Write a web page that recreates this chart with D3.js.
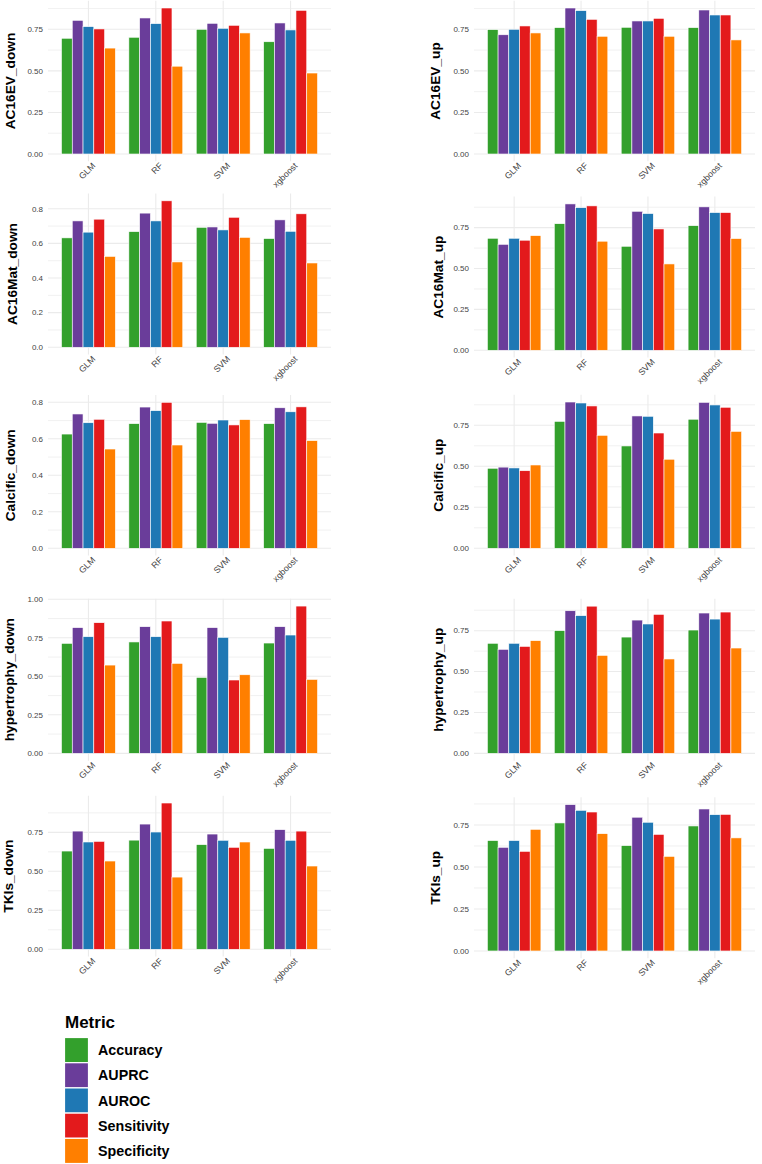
<!DOCTYPE html>
<html>
<head>
<meta charset="utf-8">
<script src="https://cdn.jsdelivr.net/npm/d3@7"></script>
<style>
  html, body { margin: 0; padding: 0; background: #ffffff; }
  svg { display: block; font-family: "Liberation Sans", Arial, sans-serif; }
</style>
</head>
<body>
<svg id="chart"></svg>
<script>
// Categories
const models = ['GLM', 'RF', 'SVM', 'xgboost'];
const metrics = ['Accuracy', 'AUPRC', 'AUROC', 'Sensitivity', 'Specificity'];
const metricColors = ['#33a02c', '#6a3d9a', '#1f78b4', '#e31a1c', '#ff7f00'];

// One row per model, values in the order of `metrics`
const ac16evDown = [
  [0.696, 0.804, 0.766, 0.752, 0.637],
  [0.702, 0.818, 0.784, 0.878, 0.528],
  [0.750, 0.786, 0.756, 0.774, 0.728],
  [0.675, 0.788, 0.746, 0.864, 0.487]
];
const ac16evUp = [
  [0.748, 0.717, 0.750, 0.770, 0.728],
  [0.760, 0.878, 0.862, 0.810, 0.708],
  [0.762, 0.800, 0.800, 0.816, 0.708],
  [0.760, 0.866, 0.836, 0.836, 0.686]
];
const ac16matDown = [
  [0.632, 0.730, 0.665, 0.740, 0.525],
  [0.668, 0.775, 0.730, 0.846, 0.493],
  [0.693, 0.695, 0.678, 0.751, 0.635],
  [0.628, 0.736, 0.670, 0.771, 0.487]
];
const ac16matUp = [
  [0.685, 0.648, 0.685, 0.673, 0.701],
  [0.774, 0.895, 0.872, 0.883, 0.667],
  [0.636, 0.850, 0.836, 0.742, 0.528],
  [0.762, 0.877, 0.842, 0.842, 0.683]
];
const calcificDown = [
  [0.626, 0.736, 0.688, 0.707, 0.544],
  [0.683, 0.774, 0.754, 0.800, 0.566],
  [0.690, 0.685, 0.703, 0.676, 0.705],
  [0.683, 0.770, 0.748, 0.775, 0.590]
];
const calcificUp = [
  [0.488, 0.495, 0.490, 0.473, 0.508],
  [0.774, 0.892, 0.886, 0.868, 0.689],
  [0.624, 0.807, 0.805, 0.703, 0.543],
  [0.787, 0.890, 0.874, 0.860, 0.713]
];
const hypertrophyDown = [
  [0.714, 0.816, 0.757, 0.848, 0.573],
  [0.723, 0.822, 0.757, 0.859, 0.584],
  [0.493, 0.816, 0.753, 0.476, 0.510],
  [0.716, 0.822, 0.768, 0.956, 0.480]
];
const hypertrophyUp = [
  [0.673, 0.636, 0.673, 0.654, 0.689],
  [0.750, 0.872, 0.842, 0.900, 0.599],
  [0.711, 0.815, 0.791, 0.850, 0.577],
  [0.754, 0.858, 0.821, 0.864, 0.644]
];
const tkisDown = [
  [0.630, 0.758, 0.688, 0.692, 0.566],
  [0.700, 0.803, 0.752, 0.938, 0.463],
  [0.671, 0.739, 0.699, 0.654, 0.688],
  [0.647, 0.767, 0.699, 0.758, 0.534]
];
const tkisUp = [
  [0.657, 0.617, 0.657, 0.593, 0.724],
  [0.762, 0.871, 0.837, 0.827, 0.698],
  [0.627, 0.796, 0.766, 0.694, 0.563],
  [0.744, 0.845, 0.811, 0.813, 0.673]
];

// Tick labels
const ticksQuarter = ['0.00', '0.25', '0.50', '0.75'];
const ticksFifth = ['0.0', '0.2', '0.4', '0.6', '0.8'];
const ticksToOne = ['0.00', '0.25', '0.50', '0.75', '1.00'];

const panelNames = ['AC16EV_down', 'AC16EV_up', 'AC16Mat_down', 'AC16Mat_up',
  'Calcific_down', 'Calcific_up', 'hypertrophy_down', 'hypertrophy_up', 'TKIs_down', 'TKIs_up'];
const panelValues = [ac16evDown, ac16evUp, ac16matDown, ac16matUp,
  calcificDown, calcificUp, hypertrophyDown, hypertrophyUp, tkisDown, tkisUp];
const panelTicks = [ticksQuarter, ticksQuarter, ticksFifth, ticksQuarter,
  ticksFifth, ticksQuarter, ticksToOne, ticksQuarter, ticksQuarter, ticksQuarter];

const width = 762;
const height = 1164;
const columns = [
  { left: 48, right: 331, titleX: [10, 12, 10, 9, 8] },
  { left: 474, right: 755, titleX: [435, 438.5, 438.5, 438.5, 435] }
];
const rowTops = [[0.7, 193.5, 395, 598.7, 795.7], [0.7, 196.6, 394.7, 598.8, 797.3]];
const rowBottoms = [[161.3, 354.6, 555.6, 760.7, 956.6], [161.3, 357.6, 555.6, 760.7, 958.3]];

const gridColor = '#ebebeb';
const tickColor = '#444444';

const svg = d3.select('#chart')
  .attr('width', width)
  .attr('height', height);

const color = d3.scaleOrdinal().domain(metrics).range(metricColors);

function drawPanel(i) {
  const col = i % 2;
  const row = Math.floor(i / 2);
  const left = columns[col].left;
  const right = columns[col].right;
  const top = rowTops[col][row];
  const bottom = rowBottoms[col][row];
  const values = panelValues[i];
  const ticks = panelTicks[i].map(Number);

  // ggplot-like expansion: 5% around [0, max]
  const maxVal = d3.max(values, d => d3.max(d));
  const y = d3.scaleLinear()
    .domain([-0.05 * maxVal, 1.05 * maxVal])
    .range([bottom, top]);

  // discrete axis: 0.6 step padding on each side
  const x = d3.scalePoint().domain(models).range([left, right]).padding(0.6);
  const step = x.step();
  const inner = d3.scaleBand().domain(metrics).range([-0.4 * step, 0.4 * step]);

  const g = svg.append('g').attr('class', 'panel');

  // minor grid (between majors, and one past the last if it fits)
  const tickStep = ticks[1] - ticks[0];
  const minor = [];
  ticks.forEach(t => {
    const m = t + tickStep / 2;
    if (m <= y.domain()[1]) minor.push(m);
  });
  g.selectAll('line.minor')
    .data(minor)
    .join('line')
    .attr('class', 'minor')
    .attr('x1', left).attr('x2', right)
    .attr('y1', d => y(d)).attr('y2', d => y(d))
    .attr('stroke', gridColor)
    .attr('stroke-width', 0.7);

  // major grid
  g.selectAll('line.major')
    .data(ticks)
    .join('line')
    .attr('class', 'major')
    .attr('x1', left).attr('x2', right)
    .attr('y1', d => y(d)).attr('y2', d => y(d))
    .attr('stroke', gridColor)
    .attr('stroke-width', 1.1);

  g.selectAll('line.vgrid')
    .data(models)
    .join('line')
    .attr('class', 'vgrid')
    .attr('x1', d => x(d)).attr('x2', d => x(d))
    .attr('y1', top).attr('y2', bottom)
    .attr('stroke', gridColor)
    .attr('stroke-width', 1.1);

  // bars
  const bars = [];
  values.forEach((row, mi) => {
    row.forEach((v, k) => bars.push({ model: models[mi], metric: metrics[k], value: v }));
  });
  g.selectAll('rect.bar')
    .data(bars)
    .join('rect')
    .attr('class', 'bar')
    .attr('x', d => x(d.model) + inner(d.metric))
    .attr('width', inner.bandwidth())
    .attr('y', d => y(d.value))
    .attr('height', d => y(0) - y(d.value))
    .attr('fill', d => color(d.metric))
    .attr('stroke', '#ffffff')
    .attr('stroke-width', 0.6);

  // y tick labels
  g.selectAll('text.ytick')
    .data(panelTicks[i])
    .join('text')
    .attr('class', 'ytick')
    .attr('x', left - 5)
    .attr('y', d => y(+d))
    .attr('dy', '0.35em')
    .attr('text-anchor', 'end')
    .attr('font-size', 8)
    .attr('fill', tickColor)
    .text(d => d);

  // x tick labels, rotated 45 degrees
  g.selectAll('text.xtick')
    .data(models)
    .join('text')
    .attr('class', 'xtick')
    .attr('transform', d => `translate(${x(d) + 7.5},${bottom + 5}) rotate(-45)`)
    .attr('text-anchor', 'end')
    .attr('font-size', 8.8)
    .attr('fill', tickColor)
    .text(d => d);

  // y axis title
  const ty = (top + bottom) / 2;
  g.append('text')
    .attr('transform', `translate(${columns[col].titleX[row]},${ty}) rotate(-90)`)
    .attr('text-anchor', 'middle')
    .attr('dy', '0.35em')
    .attr('font-size', 13.7)
    .attr('font-weight', 'bold')
    .attr('fill', '#000000')
    .text(panelNames[i]);
}

panelNames.forEach((_, i) => drawPanel(i));

// Legend
const legend = svg.append('g').attr('class', 'legend');
legend.append('text')
  .attr('x', 65)
  .attr('y', 1027.5)
  .attr('font-size', 17)
  .attr('font-weight', 'bold')
  .attr('fill', '#000000')
  .text('Metric');

const keyY = d3.scaleBand().domain(metrics).range([1037.5, 1163.5]);
const keys = legend.selectAll('g.key')
  .data(metrics)
  .join('g')
  .attr('class', 'key');
keys.append('rect')
  .attr('x', 64.5)
  .attr('y', d => keyY(d))
  .attr('width', 24)
  .attr('height', keyY.bandwidth())
  .attr('fill', d => color(d))
  .attr('stroke', '#ffffff')
  .attr('stroke-width', 1.2);
keys.append('text')
  .attr('x', 98)
  .attr('y', d => keyY(d) + keyY.bandwidth() / 2)
  .attr('dy', '0.35em')
  .attr('font-size', 14.3)
  .attr('font-weight', 'bold')
  .attr('fill', '#000000')
  .text(d => d);
</script>
</body>
</html>
